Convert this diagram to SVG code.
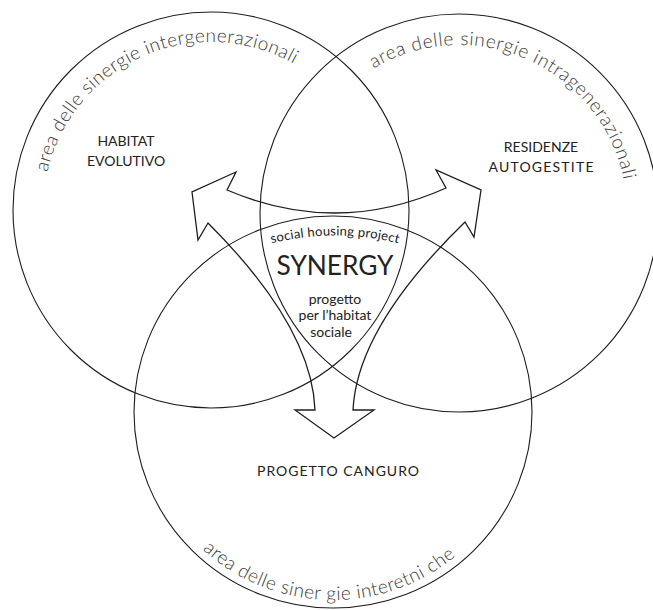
<svg xmlns="http://www.w3.org/2000/svg" width="653" height="610" viewBox="0 0 653 610">
<style>
.ring{fill:none;stroke:#1e1e1e;stroke-width:1.1}
.arrow{fill:none;stroke:#1e1e1e;stroke-width:1.3;stroke-linejoin:miter}
.arc{font-family:"Lato","Open Sans","DejaVu Sans",sans-serif;font-weight:300;font-size:19px;fill:#3a3a3a}
.lbl{font-family:"Lato","Open Sans","DejaVu Sans",sans-serif;font-size:14px;fill:#222;text-anchor:middle}
.cen{font-family:"Lato","Open Sans","DejaVu Sans",sans-serif;fill:#222;text-anchor:middle}
</style>
<defs>
<path id="pL" d="M47.3,172.2 A168,168 0 0 1 295,64.5"/>
<path id="pR" d="M373.5,68.4 A168,168 0 0 1 623.9,180.9"/>
<path id="pB" d="M202.7,549.5 A191,188 0 0 0 458.3,553.9"/>
<path id="pC" d="M262,246 A260,260 0 0 1 408,246"/>
</defs>
<rect width="653" height="610" fill="#fff"/>
<g id="area-intergenerazionali">
<circle class="ring" cx="211" cy="210" r="198"/>
<text class="arc"><textPath href="#pL" textLength="312" lengthAdjust="spacing">area delle sinergie intergenerazionali</textPath></text>
<text class="lbl" x="126" y="146">HABITAT</text>
<text class="lbl" x="126" y="166">EVOLUTIVO</text>
</g>
<g id="area-intragenerazionali">
<circle class="ring" cx="459" cy="213" r="199"/>
<text class="arc"><textPath href="#pR" textLength="320" lengthAdjust="spacing">area delle sinergie intragenerazionali</textPath></text>
<text class="lbl" x="541" y="152">RESIDENZE</text>
<text class="lbl" x="541" y="172" textLength="105" lengthAdjust="spacing">AUTOGESTITE</text>
</g>
<g id="area-interetniche">
<ellipse class="ring" cx="333" cy="412" rx="199" ry="196"/>
<text class="arc"><textPath href="#pB" textLength="276" lengthAdjust="spacing">area delle siner gie interetni che</textPath></text>
<text class="lbl" x="338" y="476" textLength="162" lengthAdjust="spacing">PROGETTO CANGURO</text>
</g>
<g id="connectors">
<path class="arrow" d="M227,190 L236,172 L192,192 L198,240 L208,223 Q312,327 315,410 L295,410 L334,438 L374,410 L353,410 Q357,327 465,222 L474,237 L481,190 L436,170 L446,188 Q337,237 227,190 Z"/>
</g>
<g id="synergy">
<text class="cen" font-size="13"><textPath href="#pC" startOffset="50%" textLength="128" lengthAdjust="spacing">social housing project</textPath></text>
<text class="cen" x="335" y="275" font-size="27" textLength="117" lengthAdjust="spacingAndGlyphs">SYNERGY</text>
<text class="cen" x="335" y="304" font-size="14">progetto</text>
<text class="cen" x="335" y="320" font-size="14">per l’habitat</text>
<text class="cen" x="331" y="337" font-size="14">sociale</text>
</g>
</svg>
